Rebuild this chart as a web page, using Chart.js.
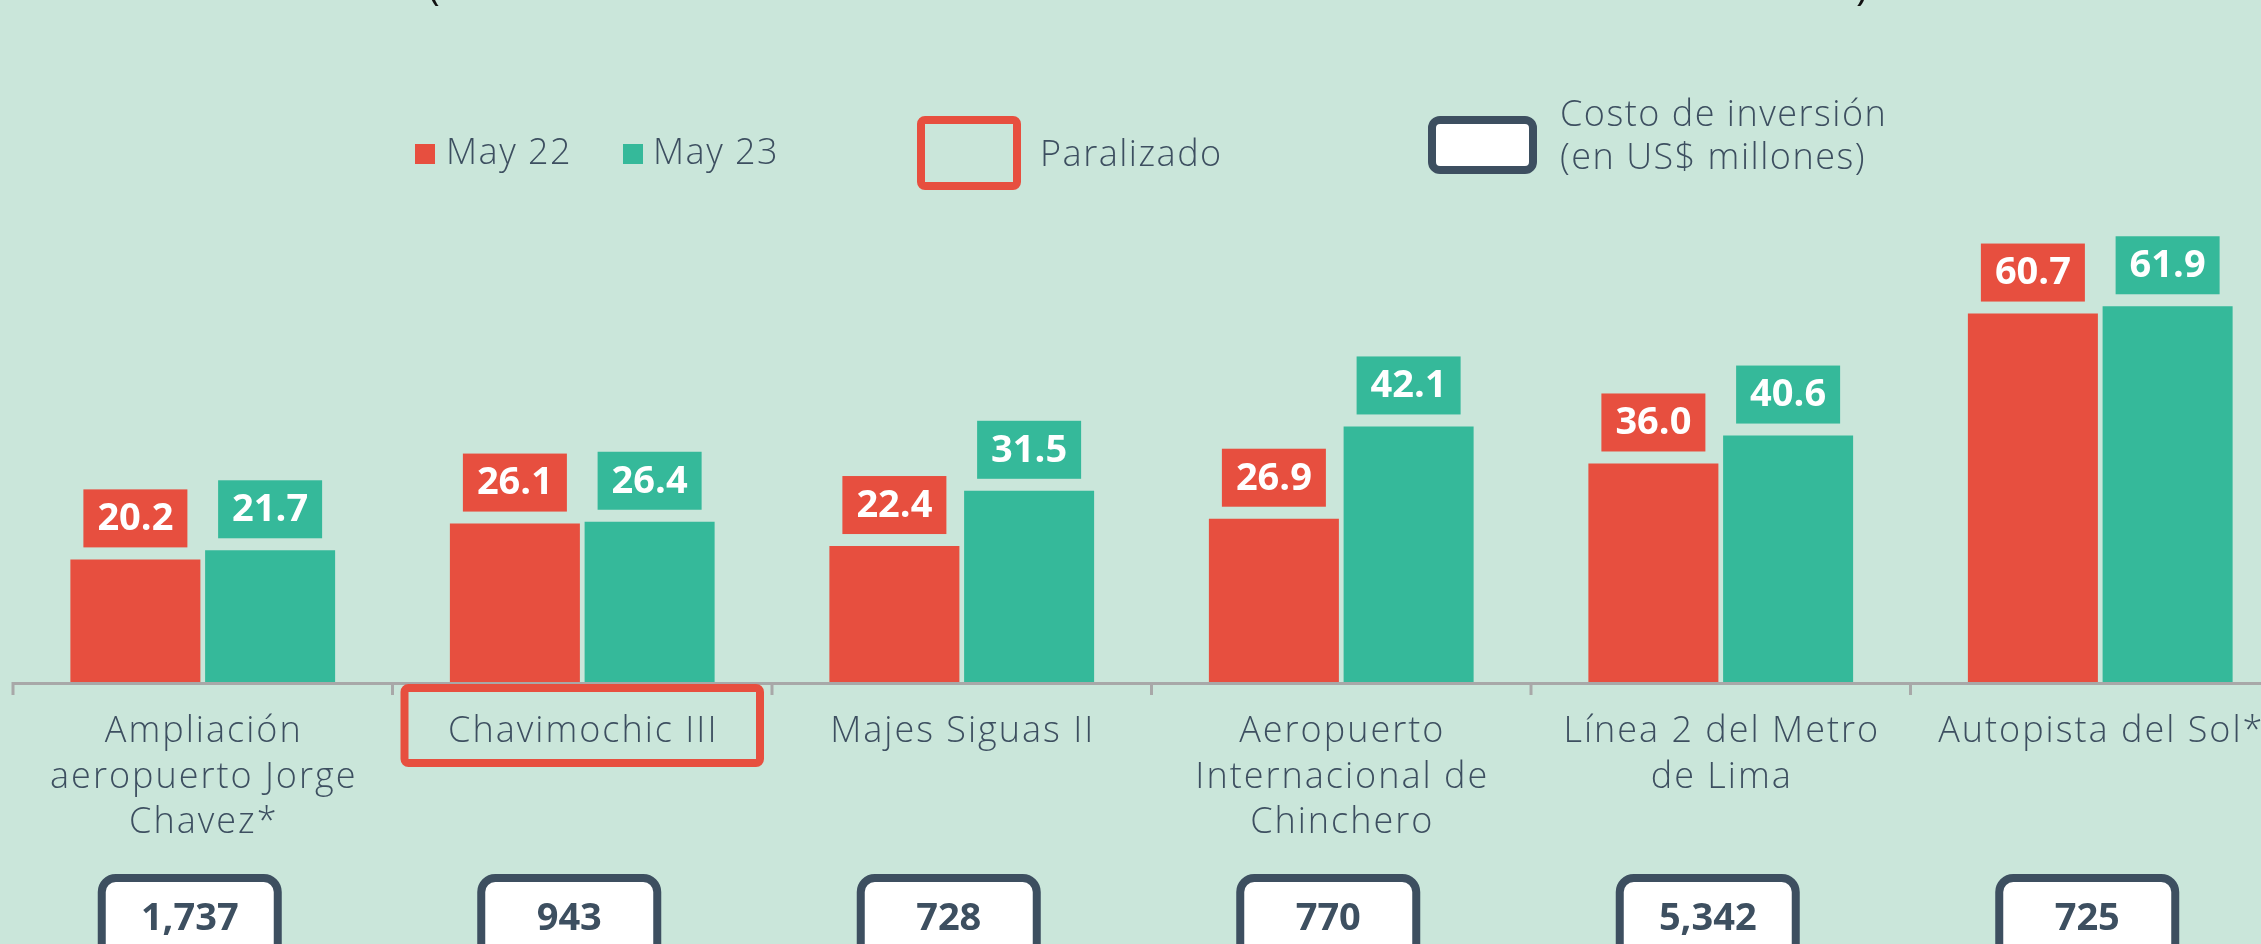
<!DOCTYPE html>
<html>
<head>
<meta charset="utf-8">
<script src="https://cdn.jsdelivr.net/npm/chart.js@4/dist/chart.umd.min.js"></script>
<style>
    html, body { margin: 0; padding: 0; background: #cae6da; overflow: hidden; }
    #wrap { width: 2300px; height: 944px; }
</style>
</head>
<body>
<div id="wrap"><canvas id="avanceChart" width="2300" height="944"></canvas></div>
<script>
// Chart data
const categories = [
    ['Ampliación', 'aeropuerto Jorge', 'Chavez*'],
    ['Chavimochic III'],
    ['Majes Siguas II'],
    ['Aeropuerto', 'Internacional de', 'Chinchero'],
    ['Línea 2 del Metro', 'de Lima'],
    ['Autopista del Sol*']
];
const may22 = [20.2, 26.1, 22.4, 26.9, 36.0, 60.7];
const may23 = [21.7, 26.4, 31.5, 42.1, 40.6, 61.9];
const investmentCost = ['1,737', '943', '728', '770', '5,342', '725'];
const paralizado = [false, true, false, false, false, false];
const seriesLabels = ['May 22', 'May 23'];

const RED = '#e74f3f';
const GREEN = '#35b99a';
const DARK = '#3d4f60';
const AXIS = '#a8a8a8';
const LIGHT_FONT = '300 36px "Open Sans", "DejaVu Sans", sans-serif';
const BOLD_FONT = 'bold 38px "Open Sans", "DejaVu Sans", sans-serif';

/**
 * Rounded rectangle helper
 */
function roundRect(ctx, x, y, w, h, r) {
    ctx.beginPath();
    ctx.moveTo(x + r, y);
    ctx.arcTo(x + w, y, x + w, y + h, r);
    ctx.arcTo(x + w, y + h, x, y + h, r);
    ctx.arcTo(x, y + h, x, y, r);
    ctx.arcTo(x, y, x + w, y, r);
    ctx.closePath();
}

/**
 * Axis line, category ticks, labels, value boxes and legend
 */
const decorPlugin = {
    id: 'decor',
    afterDatasetsDraw(chart) {
        const ctx = chart.ctx;
        const area = chart.chartArea;
        const xScale = chart.scales.x;
        const step = xScale.getPixelForValue(1) - xScale.getPixelForValue(0);

        ctx.save();

        // Value boxes above bars
        chart.data.datasets.forEach((ds, di) => {
            const meta = chart.getDatasetMeta(di);
            meta.data.forEach((bar, i) => {
                const w = 104, h = 58;
                const bottom = bar.y - 12;
                ctx.fillStyle = ds.backgroundColor;
                ctx.fillRect(bar.x - w / 2, bottom - h, w, h);
                ctx.fillStyle = '#ffffff';
                ctx.font = BOLD_FONT;
                ctx.textAlign = 'center';
                ctx.textBaseline = 'middle';
                ctx.fillText(ds.data[i].toFixed(1), bar.x, bottom - h / 2 + 1);
            });
        });

        // Category axis line
        ctx.strokeStyle = AXIS;
        ctx.lineWidth = 3;
        ctx.beginPath();
        ctx.moveTo(area.left, area.bottom + 1.5);
        ctx.lineTo(chart.width, area.bottom + 1.5);
        ctx.stroke();

        // Tick marks between categories
        for (let i = 0; i < categories.length; i++) {
            const tx = xScale.getPixelForValue(i) - step / 2;
            ctx.beginPath();
            ctx.moveTo(tx, area.bottom);
            ctx.lineTo(tx, area.bottom + 13);
            ctx.stroke();
        }

        // Category labels
        ctx.textAlign = 'center';
        ctx.textBaseline = 'alphabetic';
        categories.forEach((lines, i) => {
            const cx = xScale.getPixelForValue(i);
            ctx.font = LIGHT_FONT;
            ctx.letterSpacing = '2px';
            ctx.fillStyle = DARK;
            lines.forEach((line, j) => {
                ctx.fillText(line, cx + 1, area.bottom + 60 + j * 45.5);
            });

            // Paralizado frame
            if (paralizado[i]) {
                ctx.strokeStyle = RED;
                ctx.lineWidth = 8;
                roundRect(ctx, cx - step / 2 + 12, area.bottom + 6, step - 24, 75, 4);
                ctx.stroke();
            }

            // Investment cost box
            const bx = cx - 13;
            ctx.fillStyle = '#ffffff';
            ctx.strokeStyle = DARK;
            ctx.lineWidth = 8;
            roundRect(ctx, bx - 88, area.bottom + 196, 176, 110, 14);
            ctx.fill();
            ctx.stroke();
            ctx.fillStyle = DARK;
            ctx.letterSpacing = '0px';
            ctx.font = BOLD_FONT;
            ctx.fillText(investmentCost[i], bx, area.bottom + 248);
        });

        // Legend: series swatches
        ctx.font = LIGHT_FONT;
        ctx.letterSpacing = '1.5px';
        ctx.textAlign = 'left';
        ctx.fillStyle = RED;
        ctx.fillRect(415, 144, 20, 20);
        ctx.fillStyle = GREEN;
        ctx.fillRect(623, 144, 20, 20);
        ctx.fillStyle = DARK;
        ctx.fillText(seriesLabels[0], 446, 164);
        ctx.fillText(seriesLabels[1], 653, 164);

        // Legend: paralizado
        ctx.strokeStyle = RED;
        ctx.lineWidth = 8;
        roundRect(ctx, 921, 120, 96, 66, 4);
        ctx.stroke();
        ctx.fillText('Paralizado', 1040, 166);

        // Legend: investment cost
        ctx.fillStyle = '#ffffff';
        ctx.strokeStyle = DARK;
        roundRect(ctx, 1432, 120, 101, 50, 8);
        ctx.fill();
        ctx.stroke();
        ctx.fillStyle = DARK;
        ctx.fillText('Costo de inversión', 1560, 126);
        ctx.fillText('(en US$ millones)', 1560, 169);

        // Title remnants cut at the top edge
        ctx.fillStyle = '#111111';
        ctx.letterSpacing = '0px';
        ctx.font = '40px "Open Sans", sans-serif';
        ctx.fillText('(', 428, 0);
        ctx.fillText(')', 1856, 0);

        ctx.restore();
    }
};

/**
 * Initialize chart
 */
function initializeChart() {
    const ctx = document.getElementById('avanceChart');

    new Chart(ctx, {
        type: 'bar',
        data: {
            labels: categories.map(c => c.join(' ')),
            datasets: [
                {
                    label: seriesLabels[0],
                    data: may22,
                    backgroundColor: RED,
                    borderWidth: 0
                },
                {
                    label: seriesLabels[1],
                    data: may23,
                    backgroundColor: GREEN,
                    borderWidth: 0
                }
            ]
        },
        options: {
            responsive: false,
            animation: false,
            categoryPercentage: 0.71,
            barPercentage: 0.965,
            layout: {
                padding: { left: 13, right: 10, top: 75, bottom: 262 }
            },
            plugins: {
                legend: { display: false },
                tooltip: { enabled: false }
            },
            scales: {
                x: { display: false },
                y: { display: false, min: 0, max: 100 }
            }
        },
        plugins: [decorPlugin]
    });
}

initializeChart();
</script>
</body>
</html>
